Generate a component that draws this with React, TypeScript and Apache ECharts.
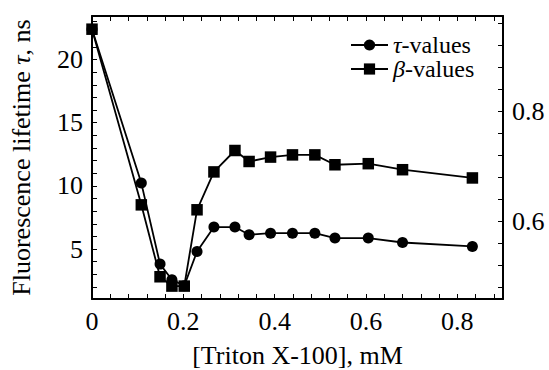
import React, { useEffect, useRef } from "react";
import * as echarts from "echarts";

// [Triton X-100], mM
const concentration = [0, 0.108, 0.149, 0.175, 0.202, 0.23, 0.267, 0.313, 0.344, 0.391, 0.439, 0.488, 0.532, 0.605, 0.68, 0.833];
// Fluorescence lifetime tau, ns (left axis)
const tauValues = [22.39, 10.22, 3.81, 2.57, 2.1, 4.81, 6.74, 6.74, 6.13, 6.26, 6.26, 6.26, 5.87, 5.87, 5.52, 5.21];
// beta values (right axis)
const betaValues = [0.95, 0.63, 0.499, 0.482, 0.482, 0.621, 0.69, 0.729, 0.709, 0.717, 0.721, 0.721, 0.703, 0.705, 0.694, 0.679];

const xLabelValues = [0, 0.2, 0.4, 0.6, 0.8];
const tauLabelValues = [5, 10, 15, 20];
const betaLabelValues = [0.6, 0.8];

const seriesNames = ["τ-values", "β-values"];

const FONT = "Liberation Serif";
const FS = 26;

function steps(start: number, end: number, step: number): number[] {
  const out: number[] = [];
  const n = Math.round((end - start) / step);
  for (let i = 0; i <= n; i++) out.push(+(start + i * step).toFixed(4));
  return out;
}

export default function App() {
  const ref = useRef<HTMLDivElement>(null);

  useEffect(() => {
    const chart = echarts.init(ref.current!, null, { renderer: "svg" });
    const xTicks = steps(0, 0.88, 0.04);
    const tauTicks = steps(2, 23, 1);
    const betaTicks = steps(0.48, 0.96, 0.04);

    const axisLine = { show: true, onZero: false, lineStyle: { color: "#000", width: 2 } };
    const tickStyle = { color: "#000", width: 1 };
    const labelStyle = { color: "#000", fontSize: FS, fontFamily: FONT };

    const option: any = {
      animation: false,
      backgroundColor: "#fff",
      textStyle: { fontFamily: FONT, color: "#000" },
      grid: { left: 92, right: 46, top: 16, bottom: 71, containLabel: false, outerBoundsMode: "none" },
      legend: {
        data: seriesNames,
        orient: "vertical",
        left: 350,
        top: 33,
        padding: 0,
        align: "left",
        itemWidth: 37,
        itemHeight: 14,
        itemGap: 0,
        formatter: (name: string) => `{i|${name.charAt(0)}}${name.slice(1)}`,
        textStyle: {
          color: "#000",
          fontSize: 24,
          fontFamily: FONT,
          lineHeight: 23,
          rich: {
            i: { fontStyle: "italic", fontSize: 24, fontFamily: FONT, color: "#000", lineHeight: 23 },
          },
        },
      },
      xAxis: [
        {
          type: "value",
          position: "bottom",
          min: 0,
          max: 0.9,
          axisLine,
          axisTick: { show: true, inside: true, length: 5, customValues: xTicks, lineStyle: tickStyle },
          axisLabel: {
            ...labelStyle,
            margin: 9,
            customValues: xLabelValues,
            formatter: (v: number) => (v === 0 ? "0" : v.toFixed(1)),
          },
          splitLine: { show: false },
          name: "[Triton X-100], mM",
          nameLocation: "middle",
          nameGap: 43,
          nameTextStyle: { ...labelStyle },
        },
        {
          type: "value",
          position: "top",
          min: 0,
          max: 0.9,
          axisLine,
          axisTick: { show: true, inside: true, length: 5, customValues: xTicks, lineStyle: tickStyle },
          axisLabel: { show: false },
          splitLine: { show: false },
        },
      ],
      yAxis: [
        {
          type: "value",
          position: "left",
          min: 1.05,
          max: 23.44,
          axisLine,
          axisTick: { show: true, inside: true, length: 5, customValues: tauTicks, lineStyle: tickStyle },
          axisLabel: { ...labelStyle, margin: 9, customValues: tauLabelValues },
          splitLine: { show: false },
          name: "Fluorescence lifetime {i|τ}, ns",
          nameLocation: "middle",
          nameGap: 58,
          nameTextStyle: {
            ...labelStyle,
            rich: { i: { fontStyle: "italic", fontSize: FS, fontFamily: FONT, color: "#000" } },
          },
        },
        {
          type: "value",
          position: "right",
          min: 0.4585,
          max: 0.974,
          axisLine,
          axisTick: { show: true, inside: true, length: 5, customValues: betaTicks, lineStyle: tickStyle },
          axisLabel: {
            ...labelStyle,
            margin: 9,
            customValues: betaLabelValues,
            formatter: (v: number) => v.toFixed(1),
          },
          splitLine: { show: false },
        },
      ],
      series: [
        {
          name: seriesNames[0],
          type: "line",
          xAxisIndex: 0,
          yAxisIndex: 0,
          data: concentration.map((x, i) => [x, tauValues[i]]),
          symbol: "circle",
          symbolSize: 11,
          showAllSymbol: true,
          lineStyle: { color: "#000", width: 1.8 },
          itemStyle: { color: "#000" },
          z: 2,
        },
        {
          name: seriesNames[1],
          type: "line",
          xAxisIndex: 0,
          yAxisIndex: 1,
          data: concentration.map((x, i) => [x, betaValues[i]]),
          symbol: "rect",
          symbolSize: 11.5,
          showAllSymbol: true,
          lineStyle: { color: "#000", width: 1.8 },
          itemStyle: { color: "#000" },
          z: 3,
        },
      ],
    };

    chart.setOption(option);
    return () => chart.dispose();
  }, []);

  return (
    <div
      ref={ref}
      style={{ position: "fixed", left: 0, top: 0, width: 549, height: 370, background: "#fff" }}
    />
  );
}
